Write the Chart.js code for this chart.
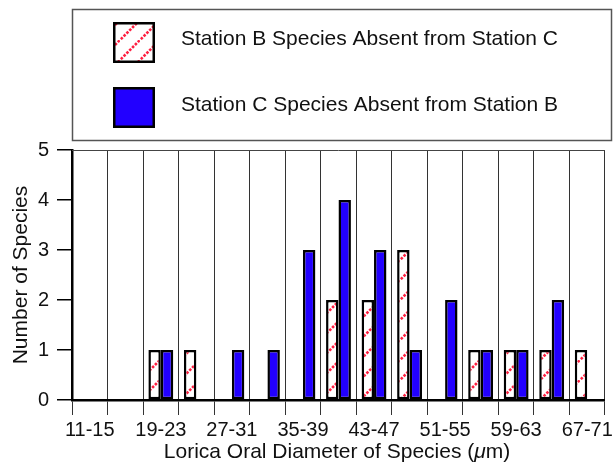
<!DOCTYPE html>
<html><head><meta charset="utf-8">
<script src="https://cdn.jsdelivr.net/npm/chart.js@4/dist/chart.umd.min.js"></script>
<style>html,body{margin:0;padding:0;background:#fff}#wrap{width:616px;height:470px}</style>
</head><body><div id="wrap"><canvas id="c" width="616" height="470"></canvas></div>
<script>
const categories = ['11-15','15-19','19-23','23-27','27-31','31-35','35-39','39-43','43-47','47-51','51-55','55-59','59-63','63-67','67-71'];
const stationBAbsentFromC = [0,0,1,1,0,0,0,2,2,3,0,1,1,1,1];
const stationCAbsentFromB = [0,0,1,0,1,1,3,4,3,1,2,1,1,2,0];
const yTicks = [0,1,2,3,4,5];
const seriesLabels = ['Station B Species Absent from Station C','Station C Species Absent from Station B'];
const xTitleParts = ['Lorica Oral Diameter of Species (','\u03BC','m)'];
const yTitle = 'Number of Species';

const FAM = "'Liberation Sans', Arial, Helvetica, sans-serif";

function makeHatch(){
  const t = document.createElement('canvas');
  t.width = 20; t.height = 20;
  const g = t.getContext('2d');
  g.fillStyle = '#fff'; g.fillRect(0,0,20,20);
  g.strokeStyle = '#ff1f40'; g.lineWidth = 2.6; g.setLineDash([2.6,1.4]);
  g.beginPath(); g.moveTo(-2,22); g.lineTo(22,-2); g.stroke();
  return g.createPattern(t,'repeat');
}
const hatch = makeHatch();

const decor = {
  id:'decor',
  afterDraw(chart){
    const ctx = chart.ctx, a = chart.chartArea;
    ctx.save();
    ctx.strokeStyle = '#444'; ctx.lineWidth = 1;
    ctx.beginPath(); ctx.moveTo(a.left, a.top+0.5); ctx.lineTo(a.right, a.top+0.5); ctx.stroke();
    // legend
    ctx.strokeStyle = '#555'; ctx.lineWidth = 1.5;
    ctx.strokeRect(72.5, 9.5, 539, 131);
    chart.data.datasets.forEach((ds,i)=>{
      const y0 = 22 + i*65;
      ctx.fillStyle = ds.backgroundColor; ctx.fillRect(113, y0, 42, 41);
      ctx.strokeStyle = '#000'; ctx.lineWidth = 2.5; ctx.strokeRect(114.25, y0+1.25, 39.5, 38.5);
      ctx.fillStyle = '#111'; ctx.font = '21px ' + FAM;
      ctx.textAlign = 'left'; ctx.textBaseline = 'alphabetic';
      ctx.fillText(ds.label, 181, 45 + i*66);
    });
    // x title with italic mu
    const fN = '21px ' + FAM, fI = 'italic 21px ' + FAM;
    ctx.font = fN; const w0 = ctx.measureText(xTitleParts[0]).width, w2 = ctx.measureText(xTitleParts[2]).width;
    ctx.font = fI; const w1 = ctx.measureText(xTitleParts[1]).width;
    let x = 337 - (w0+w1+w2)/2;
    ctx.fillStyle = '#111';
    ctx.font = fN; ctx.fillText(xTitleParts[0], x, 458); x += w0;
    ctx.font = fI; ctx.fillText(xTitleParts[1], x, 458); x += w1;
    ctx.font = fN; ctx.fillText(xTitleParts[2], x, 458);
    // y title
    ctx.translate(27, (a.top + a.bottom)/2); ctx.rotate(-Math.PI/2);
    ctx.textAlign = 'center'; ctx.font = '21px ' + FAM;
    ctx.fillText(yTitle, 0, 0);
    ctx.restore();
  }
};

new Chart(document.getElementById('c'), {
  type:'bar',
  data:{labels:categories, datasets:[
    {label:seriesLabels[0], data:stationBAbsentFromC, backgroundColor:hatch, borderColor:'#000', borderWidth:2.5, borderSkipped:false},
    {label:seriesLabels[1], data:stationCAbsentFromB, backgroundColor:'#2200ff', borderColor:'#000', borderWidth:2.5, borderSkipped:false}
  ]},
  options:{
    responsive:false, animation:false, devicePixelRatio:1,
    layout:{padding:{top:150,right:6,left:0,bottom:0}},
    plugins:{legend:{display:false}, tooltip:{enabled:false}},
    datasets:{bar:{categoryPercentage:0.7, barPercentage:1}},
    scales:{
      x:{
        grid:{offset:true, color:'#333', lineWidth:1, tickLength:15, drawTicks:true},
        border:{display:true, color:'#000', width:2.5},
        ticks:{autoSkip:false, maxRotation:0, minRotation:0, padding:3, color:'#111', font:{size:20, family:FAM},
          callback:(v,i)=> i%2===0 ? categories[i] : ''},
        afterFit(s){ s.height = 70; }
      },
      y:{
        min:0, max:5,
        afterBuildTicks(s){ s.ticks = yTicks.map(v=>({value:v})); },
        ticks:{padding:8, color:'#111', font:{size:20, family:FAM}},
        grid:{drawOnChartArea:false, drawTicks:true, tickLength:15, color:'#000', lineWidth:1.5},
        border:{display:true, color:'#000', width:2.5},
        afterFit(s){ s.width = 72; }
      }
    }
  },
  plugins:[decor]
});
</script>
</body></html>
